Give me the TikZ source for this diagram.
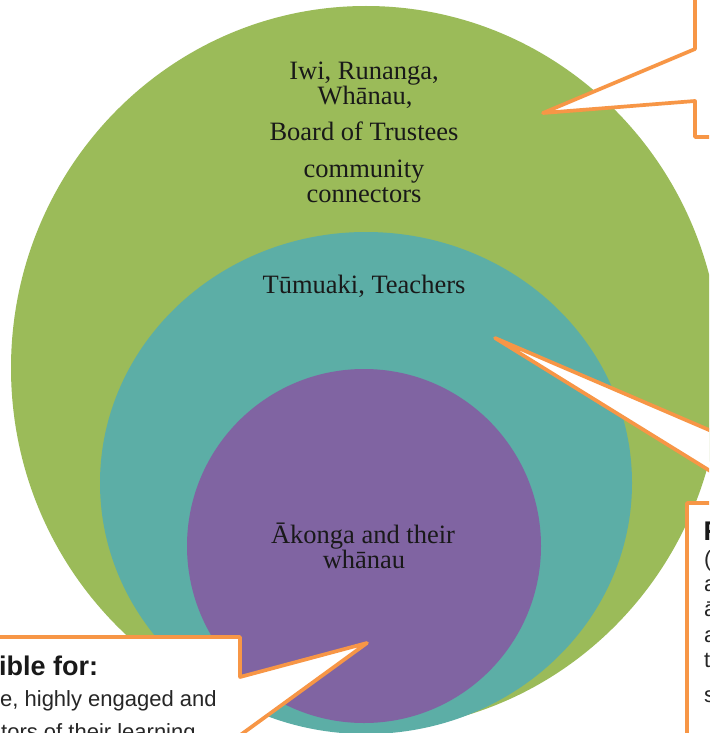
\documentclass[tikz,border=0pt]{standalone}
\usepackage{fontspec}
\setmainfont{Liberation Serif}
\newfontfamily\calloutfont{Liberation Sans}
\definecolor{ringGreen}{RGB}{155,187,89}
\definecolor{ringTeal}{RGB}{92,174,166}
\definecolor{ringPurple}{RGB}{128,100,162}
\definecolor{calloutOrange}{RGB}{247,150,70}

\begin{document}
\begin{tikzpicture}[
  x=1pt, y=-1pt,
  ringtext/.style={font=\fontsize{26.5}{30}\selectfont, text=black!90,
              anchor=base, inner sep=0pt},
  callout/.style={draw=calloutOrange, line width=3.7pt, fill=white,
              line join=round},
  calloutHead/.style={font=\calloutfont\bfseries\fontsize{27}{30}\selectfont,
              text=black!90, anchor=base west, inner sep=0pt},
  calloutBody/.style={font=\calloutfont\fontsize{22}{27}\selectfont,
              text=black!85, anchor=base west, inner sep=0pt}
]
\useasboundingbox (0,0) rectangle (709,733);
\fill[white] (0,0) rectangle (709,733);
\clip (0,0) rectangle (709,733);

% three nested rings
\fill[ringGreen]  (366,368) ellipse [x radius=355pt, y radius=362pt];
\fill[ringTeal]   (366,483) ellipse [x radius=266pt, y radius=251pt];
\fill[ringPurple] (364,546) circle [radius=177pt];

% callouts, running off the page
\coordinate (tipOuter) at (543,113);
\coordinate (tipMid)   at (495,338);
\coordinate (tipInner) at (367,643);
\draw[callout] (695,-20) -- (695,49) -- (tipOuter) -- (695,101)
  -- (695,137) -- (760,137);
\draw[callout] (687,790) -- (687,503) -- (762,503) -- (tipMid)
  -- (879,503) -- (950,503);
\draw[callout] (-20,637) -- (240,637) -- (240,677) -- (tipInner)
  -- (151,800);

% ring labels
\node[ringtext] (iwi)    at (364,80)  {Iwi, Runanga,};
\node[ringtext] (whanau) at (365,105) {Whānau,};
\node[ringtext] (board)  at (364,140) {Board of Trustees};
\node[ringtext] (comm)   at (364,177) {community};
\node[ringtext] (conn)   at (364,202) {connectors};
\node[ringtext] (staff)  at (364,293) {Tūmuaki, Teachers};
\node[ringtext] (akonga) at (363,543) {Ākonga and their};
\node[ringtext] (akwh)   at (364,568) {whānau};

% callout text
\node[calloutHead] (headL) at (-1,675) {ible for:};
\node[calloutBody] (bodyL1) at (0,706) {e, highly engaged and};
\node[calloutBody] (bodyL2) at (1,739) {tors of their learning};

\node[calloutHead] (headR) at (703.5,540) {R};
\node[calloutBody] (bodyR1) at (704,566) {(};
\node[calloutBody] (bodyR2) at (704,591) {a};
\node[calloutBody] (bodyR3) at (704,616) {ā};
\node[calloutBody] (bodyR4) at (704,642) {a};
\node[calloutBody] (bodyR5) at (704,667) {t};
\node[calloutBody] (bodyR6) at (704,702) {s};
\end{tikzpicture}
\end{document}
